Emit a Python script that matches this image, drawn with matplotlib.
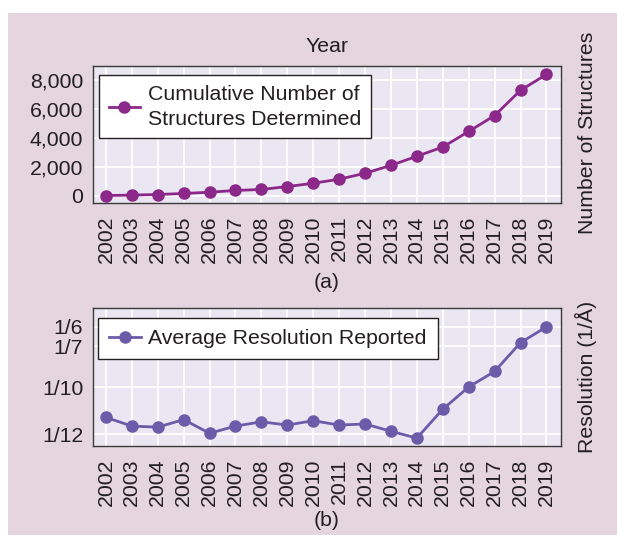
import numpy as np
import matplotlib
matplotlib.use("Agg")
from matplotlib import pyplot as plt
from matplotlib.patches import Rectangle

plt.rcParams['font.family'] = ['Liberation Sans', 'DejaVu Sans']

years = list(range(2002, 2020))
structures = [20, 50, 90, 160, 250, 370, 440, 640, 870, 1150, 1560, 2110, 2740, 3380, 4460, 5560, 7310, 8410]
# average resolution in Angstrom
resolution = [11.2, 11.6, 11.65, 11.3, 11.95, 11.6, 11.4, 11.55, 11.35, 11.55, 11.5, 11.85, 12.2,
              10.85, 10.0, 8.6, 6.8, 6.0]
struct_ticks = [0, 2000, 4000, 6000, 8000]
res_ticks = [12, 10, 7, 6]
res_labels = ['1/12', '1/10', '1/7', '1/6']

TEXT = '#231f20'
PANEL = '#e4d5df'
AXBG = '#ebe7f2'
C_TOP = '#8b2889'
C_BOT = '#6a5ca9'

# piecewise axis for inverse resolution (1/A) -> plotting height
_inv_xp = [1 / 12, 1 / 10, 1 / 7, 1 / 6]
_inv_fp = [0.0, 143.0, 267.0, 325.0]


def _lin(x, xp, fp):
    x = np.atleast_1d(np.asarray(x, dtype=float))
    y = np.interp(x, xp, fp)
    lo = x < xp[0]
    hi = x > xp[-1]
    y[lo] = fp[0] + (x[lo] - xp[0]) * (fp[1] - fp[0]) / (xp[1] - xp[0])
    y[hi] = fp[-1] + (x[hi] - xp[-1]) * (fp[-1] - fp[-2]) / (xp[-1] - xp[-2])
    return y


def fwd(r):
    return _lin(r, _inv_xp, _inv_fp)


def inv(h):
    return _lin(h, _inv_fp, _inv_xp)


fig = plt.figure(figsize=(6.17, 5.44), dpi=100, facecolor='white')
fig.patches.append(Rectangle((0.013, 0.0165), 0.987, 0.96, transform=fig.transFigure,
                             facecolor=PANEL, edgecolor='none', zorder=-10))

ax1 = fig.add_axes([0.1507, 0.6268, 0.758, 0.252])
ax2 = fig.add_axes([0.1507, 0.1801, 0.758, 0.2537])

FS = 15.3

for ax in (ax1, ax2):
    ax.set_facecolor(AXBG)
    ax.grid(True, color='white', lw=1.3)
    ax.set_axisbelow(True)
    for s in ax.spines.values():
        s.set_color('#3a3a3a')
        s.set_linewidth(1.0)
    ax.set_xticks(years)
    ax.set_xticklabels([str(y) for y in years], rotation=90, fontsize=FS, color=TEXT)
    ax.tick_params(axis='x', length=0, pad=9)
    ax.tick_params(axis='y', length=0, pad=7, labelsize=FS, labelcolor=TEXT)
    ax.set_xlim(2001.5, 2019.55)

# (a) cumulative structures
ax1.plot(years, structures, color=C_TOP, lw=2.0, marker='o', ms=8,
         label='Cumulative Number of\nStructures Determined')
ax1.set_ylim(-500, 9000)
ax1.set_yticks(struct_ticks)
ax1.set_yticklabels([f'{v:,}' for v in struct_ticks])
leg1 = ax1.legend(loc='upper left', bbox_to_anchor=(0.0128, 0.934), borderaxespad=0,
                  fontsize=FS, frameon=True, fancybox=False, handlelength=1.5,
                  handletextpad=0.35, borderpad=0.45)
leg1.get_texts()[0].set_linespacing(1.42)

# (b) average resolution, plotted as 1/A
ax2.set_yscale('function', functions=(fwd, inv))
ax2.plot(years, [1 / r for r in resolution], color=C_BOT, lw=2.0, marker='o', ms=8,
         label='Average Resolution Reported')
ax2.set_ylim(1 / 12.63, 1 / 5.26)
ax2.set_yticks([1 / t for t in res_ticks])
ax2.set_yticklabels(res_labels)
ax2.yaxis.set_minor_locator(matplotlib.ticker.NullLocator())
leg2 = ax2.legend(loc='upper left', bbox_to_anchor=(0.0107, 0.928), borderaxespad=0,
                  fontsize=FS, frameon=True, fancybox=False, handlelength=1.5,
                  handletextpad=0.35, borderpad=0.52)

for leg in (leg1, leg2):
    fr = leg.get_frame()
    fr.set_edgecolor('#222222')
    fr.set_linewidth(1.0)
    fr.set_alpha(1)
    for t in leg.get_texts():
        t.set_color(TEXT)

fig.text(0.53, 0.915, 'Year', ha='center', va='center', fontsize=FS, color=TEXT)
fig.text(0.53, 0.48, '(a)', ha='center', va='center', fontsize=FS, color=TEXT)
fig.text(0.53, 0.044, '(b)', ha='center', va='center', fontsize=FS, color=TEXT)
fig.text(0.952, 0.755, 'Number of Structures', ha='center', va='center', rotation=90,
         fontsize=FS, color=TEXT)
fig.text(0.950, 0.307, 'Resolution (1/Å)', ha='center', va='center', rotation=90,
         fontsize=FS, color=TEXT)

fig.savefig('out.png', dpi=100, facecolor='white')
